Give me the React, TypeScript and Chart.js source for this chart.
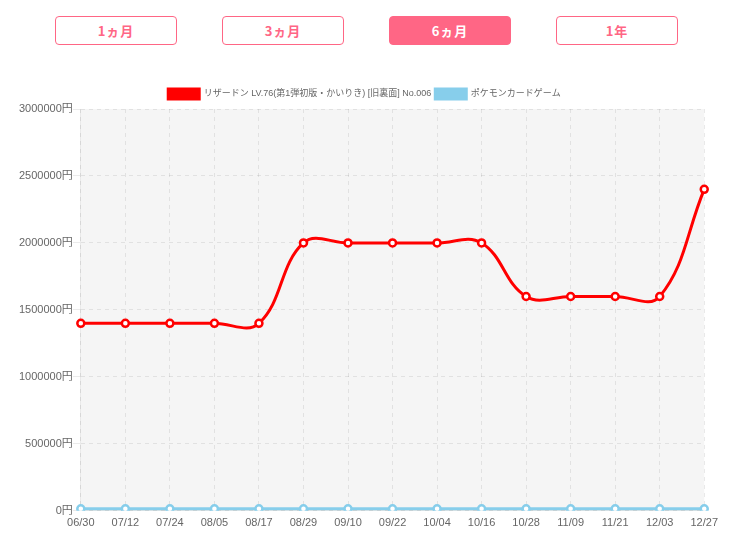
import React, { useEffect, useRef } from "react";
import { Chart, registerables } from "chart.js";

Chart.register(...registerables);

const dates = ["06/30", "07/12", "07/24", "08/05", "08/17", "08/29", "09/10", "09/22", "10/04", "10/16", "10/28", "11/09", "11/21", "12/03", "12/27"];
const cardPrices = [1400000, 1400000, 1400000, 1400000, 1400000, 2000000, 2000000, 2000000, 2000000, 2000000, 1600000, 1600000, 1600000, 1600000, 2400000];
const gamePrices = [15000, 15000, 15000, 15000, 15000, 15000, 15000, 15000, 15000, 15000, 15000, 15000, 15000, 15000, 15000];
const cardLabel = "リザードン LV.76(第1弾初版・かいりき) [旧裏面] No.006";
const gameLabel = "ポケモンカードゲーム";
const periods = ["1ヵ月", "3ヵ月", "6ヵ月", "1年"];
const activePeriod = 2;

const FONT = "'Liberation Sans', Arial, 'Noto Sans CJK JP', sans-serif";
const PINK = "#ff6685";

const bgPlugin = {
  id: "areaBg",
  beforeDraw(chart: any) {
    const { ctx, chartArea } = chart;
    if (!chartArea) return;
    ctx.save();
    ctx.fillStyle = "#f5f5f5";
    ctx.fillRect(chartArea.left, chartArea.top, chartArea.right - chartArea.left, chartArea.bottom - chartArea.top);
    ctx.restore();
  },
};

export default function App() {
  const ref = useRef<HTMLCanvasElement>(null);
  useEffect(() => {
    if (!ref.current) return;
    const chart = new Chart(ref.current, {
      type: "line",
      data: {
        labels: dates,
        datasets: [
          {
            label: cardLabel,
            data: cardPrices,
            borderColor: "#ff0000",
            backgroundColor: "#ff0000",
            borderWidth: 3,
            tension: 0.4,
            fill: false,
            pointRadius: 3.5,
            pointBorderWidth: 2.5,
            pointBackgroundColor: "#ffffff",
            pointBorderColor: "#ff0000",
          },
          {
            label: gameLabel,
            data: gamePrices,
            borderColor: "#87ceeb",
            backgroundColor: "#87ceeb",
            borderWidth: 3,
            tension: 0.4,
            fill: false,
            pointRadius: 3.5,
            pointBorderWidth: 2.5,
            pointBackgroundColor: "#ffffff",
            pointBorderColor: "#87ceeb",
          },
        ],
      },
      options: {
        animation: false,
        responsive: false,
        maintainAspectRatio: false,
        layout: { padding: { left: 11, right: 14, top: 6, bottom: 3 } },
        plugins: {
          legend: {
            labels: {
              boxWidth: 31,
              boxHeight: 10,
              color: "#666",
              font: { family: FONT, size: 9 },
              padding: 4,
            },
          },
          tooltip: { enabled: false },
        },
        scales: {
          x: {
            grid: { color: "rgba(0,0,0,0.08)", tickLength: 0 },
            border: { dash: [4, 4], color: "rgba(0,0,0,0.08)" },
            ticks: { color: "#666", font: { family: FONT, size: 11 }, maxRotation: 0, padding: 6 },
          },
          y: {
            min: 0,
            max: 3000000,
            grid: { color: "rgba(0,0,0,0.08)", tickLength: 8 },
            border: { dash: [4, 4], color: "rgba(0,0,0,0.08)" },
            ticks: {
              stepSize: 500000,
              color: "#666",
              font: { family: FONT, size: 11 },
              padding: 0,
              callback: (v: any) => v + "円",
            },
          },
        },
      },
      plugins: [bgPlugin],
    });
    return () => chart.destroy();
  }, []);

  const btnLefts = [55, 222, 389, 556];
  return (
    <div>
      {periods.map((p, i) => (
        <div
          key={p}
          style={{
            position: "fixed",
            left: btnLefts[i],
            top: 16,
            width: 122,
            height: 29,
            boxSizing: "border-box",
            border: `1px solid ${PINK}`,
            borderRadius: 4,
            background: i === activePeriod ? PINK : "#fff",
            color: i === activePeriod ? "#fff" : PINK,
            fontFamily: "'Noto Sans CJK JP', sans-serif",
            fontWeight: "bold",
            fontSize: 13,
            letterSpacing: 1,
            display: "flex",
            alignItems: "center",
            justifyContent: "center",
          }}
        >
          {p}
        </div>
      ))}
      <canvas
        ref={ref}
        width={716}
        height={460}
        style={{ position: "fixed", left: 8, top: 79, width: 716, height: 460 }}
      />
    </div>
  );
}
